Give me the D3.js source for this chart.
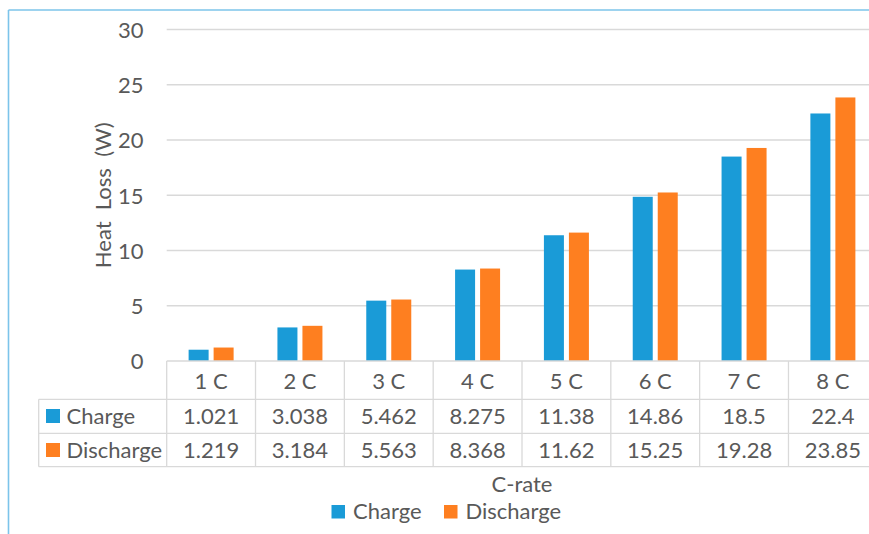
<!DOCTYPE html>
<html>
<head>
<meta charset="utf-8">
<script src="https://cdn.jsdelivr.net/npm/d3@7"></script>
<style>
  html, body { margin: 0; padding: 0; background: #fff; }
  svg { display: block; }
  text { font-family: Lato, "Open Sans", sans-serif; fill: #595959; }
</style>
</head>
<body>
<svg id="chart" width="869" height="534"></svg>
<script>
// Heat loss per C-rate, charge vs discharge
const categories = ["1 C", "2 C", "3 C", "4 C", "5 C", "6 C", "7 C", "8 C"];
const seriesNames = ["Charge", "Discharge"];
const chargeValues = [1.021, 3.038, 5.462, 8.275, 11.38, 14.86, 18.5, 22.4];
const dischargeValues = [1.219, 3.184, 5.563, 8.368, 11.62, 15.25, 19.28, 23.85];
const chargeLabels = ["1.021", "3.038", "5.462", "8.275", "11.38", "14.86", "18.5", "22.4"];
const dischargeLabels = ["1.219", "3.184", "5.563", "8.368", "11.62", "15.25", "19.28", "23.85"];
const yTicks = [0, 5, 10, 15, 20, 25, 30];
const colors = ["#1a9bd7", "#fe7f20"];

const series = [
  { name: seriesNames[0], values: chargeValues, labels: chargeLabels, color: colors[0] },
  { name: seriesNames[1], values: dischargeValues, labels: dischargeLabels, color: colors[1] }
];

const svg = d3.select("#chart");
const fontSize = 22;
const grid = "#d9d9d9";

const plotLeft = 166.7, plotRight = 877.3, plotTop = 29.5, plotBottom = 361;
const x = d3.scaleBand().domain(categories).range([plotLeft, plotRight]).paddingInner(0).paddingOuter(0);
const xInner = d3.scaleBand().domain(seriesNames).range([0, 45]).paddingInner(0.2);
const y = d3.scaleLinear().domain([0, 30]).range([plotBottom, plotTop]);

// Chart frame (top and left edges visible)
svg.append("line").attr("x1", 8.5).attr("x2", 869).attr("y1", 10).attr("y2", 10)
  .attr("stroke", "#7cc4ea").attr("stroke-width", 1.6);
svg.append("line").attr("x1", 8.5).attr("x2", 8.5).attr("y1", 10).attr("y2", 534)
  .attr("stroke", "#7cc4ea").attr("stroke-width", 1.6);

// Gridlines and y-axis labels
const yAxis = d3.axisLeft(y).tickValues(yTicks).tickSize(0).tickPadding(0);
const yg = svg.append("g").attr("transform", `translate(${plotLeft},0)`).call(yAxis);
yg.select(".domain").remove();
yg.selectAll(".tick text")
  .attr("x", 143.5 - plotLeft)
  .attr("dy", "0.36em")
  .style("font-size", fontSize + "px")
  .style("font-family", "Lato, sans-serif")
  .attr("fill", "#595959");
svg.append("g").selectAll("line").data(yTicks.filter(d => d > 0)).join("line")
  .attr("x1", plotLeft).attr("x2", plotRight)
  .attr("y1", d => y(d)).attr("y2", d => y(d))
  .attr("stroke", grid).attr("stroke-width", 1.3);

// Bars
const groups = svg.append("g").selectAll("g").data(categories).join("g")
  .attr("transform", d => `translate(${x(d) + (x.bandwidth() - 45) / 2},0)`);
groups.selectAll("rect")
  .data((d, i) => series.map(s => ({ key: s.name, value: s.values[i], color: s.color })))
  .join("rect")
  .attr("x", d => xInner(d.key))
  .attr("width", xInner.bandwidth())
  .attr("y", d => y(d.value))
  .attr("height", d => y(0) - y(d.value))
  .attr("fill", d => d.color);

// Data table
const rowTop = [361, 399.3, 433.3, 466.7];
const tableLeft = 38.7;
const tbl = svg.append("g").attr("stroke", grid).attr("stroke-width", 1.3);
tbl.append("line").attr("x1", plotLeft).attr("x2", plotRight).attr("y1", rowTop[0]).attr("y2", rowTop[0]);
[rowTop[1], rowTop[2], rowTop[3]].forEach(yy => {
  tbl.append("line").attr("x1", tableLeft).attr("x2", plotRight).attr("y1", yy).attr("y2", yy);
});
tbl.append("line").attr("x1", tableLeft).attr("x2", tableLeft).attr("y1", rowTop[1]).attr("y2", rowTop[3]);
categories.forEach(c => {
  tbl.append("line").attr("x1", x(c)).attr("x2", x(c)).attr("y1", rowTop[0]).attr("y2", rowTop[3]);
});

// Header row: category labels
svg.append("g").selectAll("text").data(categories).join("text")
  .attr("x", d => x(d) + x.bandwidth() / 2)
  .attr("y", 388.5)
  .attr("text-anchor", "middle")
  .style("font-size", fontSize + "px")
  .text(d => d);

// Series rows
const rowBaselines = [423.5, 457.5];
series.forEach((s, si) => {
  svg.append("rect").attr("x", 46).attr("y", rowBaselines[si] - 14.5).attr("width", 14).attr("height", 14).attr("fill", s.color);
  svg.append("text").attr("x", 66.5).attr("y", rowBaselines[si]).style("font-size", fontSize + "px").text(s.name);
  svg.append("g").selectAll("text").data(s.labels).join("text")
    .attr("x", (d, i) => x(categories[i]) + x.bandwidth() / 2)
    .attr("y", rowBaselines[si])
    .attr("text-anchor", "middle")
    .style("font-size", fontSize + "px")
    .text(d => d);
});

// Axis titles
svg.append("text")
  .attr("transform", `translate(110.5,${(plotTop + plotBottom) / 2}) rotate(-90)`)
  .attr("text-anchor", "middle")
  .style("font-size", fontSize + "px")
  .style("white-space", "pre")
  .text("Heat  Loss  (W)");
svg.append("text")
  .attr("x", (plotLeft + plotRight) / 2)
  .attr("y", 491.5)
  .attr("text-anchor", "middle")
  .style("font-size", fontSize + "px")
  .text("C-rate");

// Legend
const legendItems = [
  { name: seriesNames[0], color: colors[0], x: 331.5 },
  { name: seriesNames[1], color: colors[1], x: 444 }
];
legendItems.forEach(it => {
  svg.append("rect").attr("x", it.x).attr("y", 505).attr("width", 13.5).attr("height", 13.5).attr("fill", it.color);
  svg.append("text").attr("x", it.x + 21.5).attr("y", 519).style("font-size", fontSize + "px").text(it.name);
});
</script>
</body>
</html>
